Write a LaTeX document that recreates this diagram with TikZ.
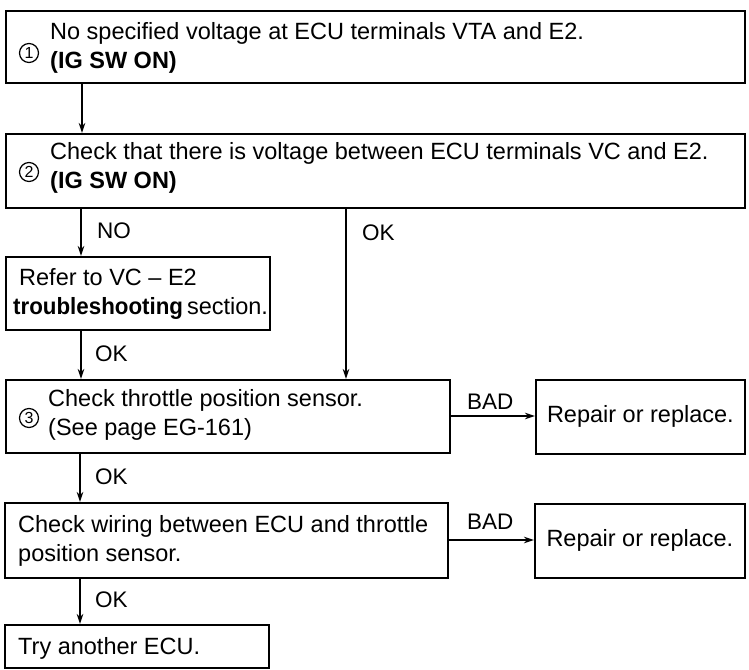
\documentclass[tikz,border=0pt]{standalone}
\usepackage{fontspec}
\setmainfont{Liberation Sans}
\usetikzlibrary{arrows.meta}
\begin{document}
\begin{tikzpicture}[x=1pt,y=-1pt,
  box/.style={draw=black, line width=1.8pt, anchor=north west, inner sep=0pt},
  txt/.style={anchor=west, align=left, inner sep=0pt, font=\fontsize{23.5}{29.5}\selectfont},
  lbl/.style={anchor=west, inner sep=0pt, font=\fontsize{22.5}{26}\selectfont},
  num/.style={circle, draw=black, line width=1.2pt, minimum size=19pt, inner sep=0pt, font=\fontsize{16}{16}\selectfont},
  arr/.style={line width=1.8pt, -{Stealth[length=10pt,width=6.5pt]}}]
\useasboundingbox[fill=white] (0,0) rectangle (749,669);
% boxes
\node[box, minimum width=739pt, minimum height=72pt] (b1) at (5,10) {};
\node[box, minimum width=739pt, minimum height=74pt] (b2) at (5,133) {};
\node[box, minimum width=264pt, minimum height=73pt] (b3) at (5,256) {};
\node[box, minimum width=444pt, minimum height=73pt] (b4) at (5,379) {};
\node[box, minimum width=209pt, minimum height=74pt] (r1) at (535,379) {};
\node[box, minimum width=443pt, minimum height=75pt] (b5) at (4,502) {};
\node[box, minimum width=210pt, minimum height=74pt] (r2) at (534,503) {};
\node[box, minimum width=264pt, minimum height=43pt] (b6) at (4,624) {};
% texts
\node[num] (n1) at (29,53) {1};
\node[txt] (t1) at (50,48) {No specified voltage at ECU terminals VTA and E2.\\\textbf{(IG SW ON)}};
\node[num] (n2) at (29,172) {2};
\node[txt] (t2) at (50,168) {Check that there is voltage between ECU terminals VC and E2.\\\textbf{(IG SW ON)}};
\node[txt] (t3) at (13,294) {\hspace{6pt}Refer to VC -- E2\\\scalebox{0.95}[1]{\textbf{troubleshooting}}\,section.};
\node[num] (n3) at (29,418) {3};
\node[txt] (t4) at (48,415) {Check throttle position sensor.\\(See page EG-161)};
\node[txt] (t5) at (18,541) {Check wiring between ECU and throttle\\position sensor.};
\node[txt] (t6) at (18,648) {Try another ECU.};
\node[txt, anchor=center] (t7) at (r1.center) {Repair or replace.};
\node[txt, anchor=center] (t8) at (r2.center) {Repair or replace.};
% connectors
\coordinate (a1s) at (82,82); \coordinate (a1e) at (82,133);
\draw[arr] (a1s) -- (a1e);
\coordinate (a2s) at (81,207); \coordinate (a2e) at (81,256);
\draw[arr] (a2s) -- (a2e);
\node[lbl] (l1) at (97,231) {NO};
\coordinate (a3s) at (346,207); \coordinate (a3e) at (346,379);
\draw[arr] (a3s) -- (a3e);
\node[lbl] (l2) at (362,233) {OK};
\coordinate (a4s) at (81,329); \coordinate (a4e) at (81,379);
\draw[arr] (a4s) -- (a4e);
\node[lbl] (l3) at (95,354) {OK};
\draw[arr] (b4.east |- 0,416) -- (r1.west |- 0,416);
\node[lbl] (l4) at (467,402) {BAD};
\coordinate (a5s) at (80,452); \coordinate (a5e) at (80,502);
\draw[arr] (a5s) -- (a5e);
\node[lbl] (l5) at (95,477) {OK};
\draw[arr] (b5.east |- 0,540) -- (r2.west |- 0,540);
\node[lbl] (l6) at (467,522) {BAD};
\coordinate (a6s) at (80,577); \coordinate (a6e) at (80,624);
\draw[arr] (a6s) -- (a6e);
\node[lbl] (l7) at (95,600) {OK};
\end{tikzpicture}
\end{document}
